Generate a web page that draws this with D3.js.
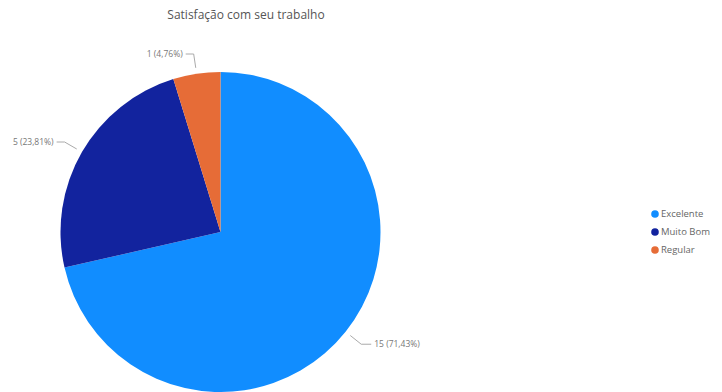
<!DOCTYPE html>
<html>
<head>
<meta charset="utf-8">
<script src="https://cdn.jsdelivr.net/npm/d3@7"></script>
<style>
html,body{margin:0;padding:0;background:#fff;}
svg{display:block;font-family:"Open Sans","Segoe UI",sans-serif;}
</style>
</head>
<body>
<svg id="chart" width="722" height="392"></svg>
<script>
const title = "Satisfação com seu trabalho";
const categories = ["Excelente", "Muito Bom", "Regular"];
const values = [15, 5, 1];
const colors = ["#118DFF", "#12239E", "#E66C37"];

const svg = d3.select("#chart");
const W = 722, H = 392;
const cx = 220.5, cy = 232, R = 160;

svg.append("text")
  .attr("x", 246).attr("y", 19)
  .attr("text-anchor", "middle")
  .attr("font-size", 12)
  .attr("fill", "#555")
  .text(title);

const data = categories.map((c, i) => ({cat: c, value: values[i], color: colors[i]}));
const total = d3.sum(values);
const pie = d3.pie().value(d => d.value).sort(null);
const arcs = pie(data);
const arc = d3.arc().innerRadius(0).outerRadius(R);

const g = svg.append("g").attr("transform", `translate(${cx},${cy})`);
g.selectAll("path.slice").data(arcs).enter().append("path")
  .attr("class", "slice")
  .attr("d", arc)
  .attr("fill", d => d.data.color);

const fmt = v => (v * 100).toFixed(2).replace(".", ",") + "%";
const pt = (a, r) => [r * Math.sin(a), -r * Math.cos(a)];

arcs.forEach(d => {
  const a = (d.startAngle + d.endAngle) / 2;
  const p0 = pt(a, 166), p1 = pt(a, 180);
  const right = Math.sin(a) >= 0;
  const p2 = [p1[0] + (right ? 10 : -8), p1[1]];
  g.append("polyline")
    .attr("points", [p0, p1, p2].map(p => p.join(",")).join(" "))
    .attr("fill", "none")
    .attr("stroke", "#aaa")
    .attr("stroke-width", 1);
  g.append("text")
    .attr("x", p2[0] + (right ? 3 : -3))
    .attr("y", p2[1])
    .attr("dy", "0.35em")
    .attr("text-anchor", right ? "start" : "end")
    .attr("font-size", 8.5)
    .attr("fill", "#777")
    .text(`${d.data.value} (${fmt(d.data.value / total)})`);
});

const leg = svg.append("g").attr("transform", "translate(655,214)");
data.forEach((d, i) => {
  const row = leg.append("g").attr("transform", `translate(0,${i * 18})`);
  row.append("circle").attr("r", 3.8).attr("fill", d.color);
  row.append("text").attr("x", 6).attr("dy", "0.35em")
    .attr("font-size", 9.5).attr("fill", "#666").text(d.cat);
});
</script>
</body>
</html>
